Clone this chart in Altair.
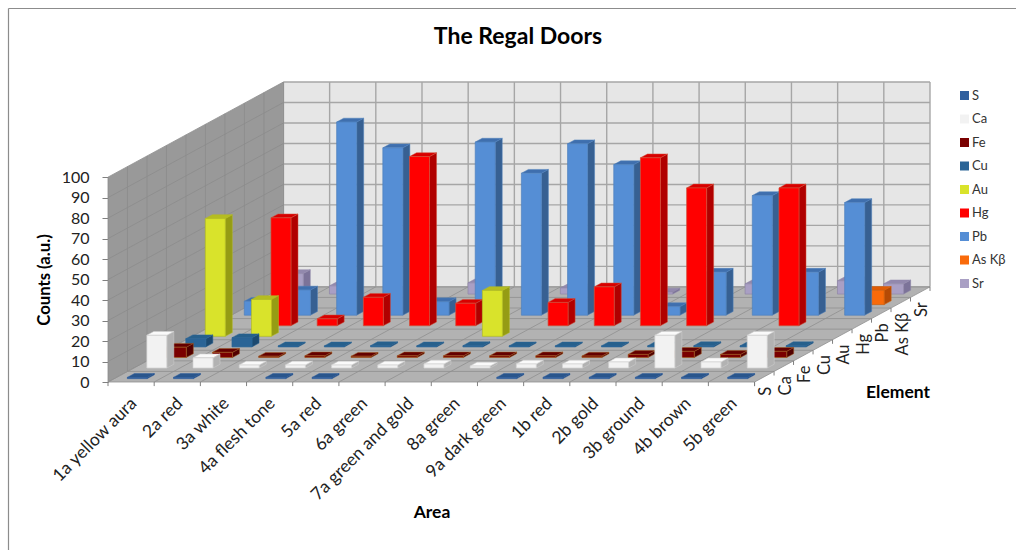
import altair as alt
import pandas as pd

TITLE = "The Regal Doors"
AREAS = ["1a yellow aura", "2a red", "3a white", "4a flesh tone", "5a red", "6a green",
         "7a green and gold", "8a green", "9a dark green", "1b red", "2b gold",
         "3b ground", "4b brown", "5b green"]
ELEMENTS = ["S", "Ca", "Fe", "Cu", "Au", "Hg", "Pb", "As Kβ", "Sr"]

# Counts per area, one list per element
S_VALUES = [0.6, 0.6, 0, 0.6, 0.6, 0, 0, 0, 0.6, 0.6, 0.6, 0.6, 0.6, 0.6]
CA_VALUES = [16, 5, 1.5, 1.5, 1.5, 1.5, 2, 1, 2, 2, 3, 16, 3, 16]
FE_VALUES = [5, 2.5, 0.6, 0.8, 0.6, 0.8, 0.8, 0.8, 0.8, 0.7, 1.5, 3, 1.5, 3]
CU_VALUES = [4, 4.5, 0.5, 0.5, 0.6, 0.5, 0.6, 0.5, 0.5, 0.5, 0.5, 0.6, 0.5, 0.6]
AU_VALUES = [57.5, 18, 0, 0, 0, 0, 22.4, 0, 0, 0, 0, 0, 0, 0]
HG_VALUES = [0, 52.7, 3.4, 13.9, 82.6, 11, 0, 11.4, 19, 82, 67.3, 0, 67.3, 0]
PB_VALUES = [6.8, 12.3, 94.3, 81.7, 6.6, 84.5, 69.3, 83.7, 73.5, 4.2, 21, 58.4, 21, 55]
AS_VALUES = [0, 0, 0, 0, 0, 0, 0, 0, 0, 0, 0, 0, 0, 7]
SR_VALUES = [10, 4, 0, 0, 5.5, 0, 3, 0, 1, 0, 5, 0, 6.5, 5]
SERIES = [S_VALUES, CA_VALUES, FE_VALUES, CU_VALUES, AU_VALUES,
          HG_VALUES, PB_VALUES, AS_VALUES, SR_VALUES]

FRONT = ["#2f5f9e", "#f2f2f2", "#7a0000", "#2a6496", "#d9e32b", "#ff0000", "#558ed5", "#f96a0a", "#a99fc4"]
SIDE = ["#1f4475", "#b2b2b2", "#520000", "#1d4a70", "#959c14", "#b00000", "#376092", "#b54a05", "#7c7399"]
TOP = ["#2a568c", "#fafafa", "#640000", "#27608c", "#b5bd20", "#d80000", "#3f6fae", "#e05c06", "#9288ad"]
EDGE = ["#2f5f9e", "#d0d0d0", "#a05a20", "#2a6496", "#b5bd20", "#d0503a", "#4f81bd", "#d0600a", "#8f86a8"]

# Oblique projection: one series step moves this far along the plot's axes
DEPTH_X = 0.4221
DEPTH_Y = 5.16
BAR_W = 0.433
BAR_D = 0.36
BAR_START = 0.32
X_MAX = len(AREAS) + len(ELEMENTS) * DEPTH_X
Y_MAX = 100 + len(ELEMENTS) * DEPTH_Y
TICK_VALUES = list(range(0, 110, 10))
font = "Lato"

x_scale = alt.Scale(domain=[0, X_MAX], nice=False, zero=False)
y_scale = alt.Scale(domain=[0, Y_MAX], nice=False, zero=False)
y_axis = alt.Axis(
    values=TICK_VALUES, title="Counts (a.u.)", titleFont=font, titleFontSize=16.7,
    titleFontWeight="bold", titleColor="#000000", titleY=197.5, titleX=-55, titleAngle=270,
    labelFont=font, labelFontSize=16, labelColor="#222222", labelPadding=13,
    domain=False, ticks=True, tickSize=6, tickColor="#808080", grid=False,
)
x_enc = alt.X("x:Q", scale=x_scale, axis=None)
y_enc = alt.Y("y:Q", scale=y_scale, axis=y_axis)


def segments(rows, color, width=1.0):
    """Straight lines, possibly slanted, given as x, y, x2, y2 rows."""
    return alt.Chart(pd.DataFrame(rows, columns=["x", "y", "x2", "y2"])).mark_rule(
        color=color, strokeWidth=width
    ).encode(x=x_enc, y=y_enc, x2="x2:Q", y2="y2:Q")


def panel_vertical(x0, x1, b0, t0, b1, t1, color):
    """Wall piece with vertical left and right edges."""
    df = pd.DataFrame({"x": [x0, x1], "y": [b0, b1], "y2": [t0, t1]})
    return alt.Chart(df).mark_area(color=color, opacity=1).encode(x=x_enc, y=y_enc, y2="y2:Q")


def panel_horizontal(y0, y1, a0, b0, a1, b1, color):
    """Floor piece with horizontal front and back edges."""
    df = pd.DataFrame({"y": [y0, y1], "x": [a0, a1], "x2": [b0, b1]})
    return alt.Chart(df).mark_area(color=color, opacity=1, orient="horizontal").encode(
        x=x_enc, y=y_enc, x2="x2:Q"
    )


n_a, n_e = len(AREAS), len(ELEMENTS)
dx_total, dy_total = n_e * DEPTH_X, n_e * DEPTH_Y

layers = [
    panel_vertical(dx_total, n_a + dx_total, dy_total, Y_MAX, dy_total, Y_MAX, "#e6e6e6"),
    panel_vertical(0, dx_total, 0, 100, dy_total, Y_MAX, "#999999"),
    panel_horizontal(0, dy_total, 0, n_a, dx_total, n_a + dx_total, "#b2b2b2"),
]

# Gridlines on the back wall, side wall and floor
levels = TICK_VALUES
layers.append(segments([[dx_total, dy_total + v, n_a + dx_total, dy_total + v] for v in levels], "#a6a6a6", 1.4))
layers.append(segments([[dx_total + k, dy_total, dx_total + k, Y_MAX] for k in range(n_a + 1)], "#a6a6a6", 1.4))
layers.append(segments([[0, v, dx_total, dy_total + v] for v in levels], "#8c8c8c", 0.8))
layers.append(segments([[e * DEPTH_X, e * DEPTH_Y, e * DEPTH_X, 100 + e * DEPTH_Y] for e in range(n_e + 1)], "#8c8c8c", 0.8))
layers.append(segments([[e * DEPTH_X, e * DEPTH_Y, n_a + e * DEPTH_X, e * DEPTH_Y] for e in range(n_e + 1)], "#8f8f8f", 0.8))
layers.append(segments([[k, 0, k + dx_total, dy_total] for k in range(n_a + 1)], "#8f8f8f", 0.8))

# Axis ticks on the floor's front and right edges
layers.append(segments([[k, 0, k, -2] for k in range(n_a + 1)], "#808080", 1))
layers.append(segments([[n_a + e * DEPTH_X, e * DEPTH_Y, n_a + e * DEPTH_X, e * DEPTH_Y - 2] for e in range(n_e + 1)], "#808080", 1))

# Columns, painted from the back row forward
for e in reversed(range(n_e)):
    front_rows, side_rows, top_rows = [], [], []
    for k, value in enumerate(SERIES[e]):
        if value <= 0:
            continue
        x0 = k + 0.5 - BAR_W / 2 + (e + BAR_START) * DEPTH_X
        x1 = x0 + BAR_W
        b = (e + BAR_START) * DEPTH_Y
        t = b + value
        shift_x, shift_y = BAR_D * DEPTH_X, BAR_D * DEPTH_Y
        front_rows.append({"x": x0, "x2": x1, "y": b, "y2": t, "element": ELEMENTS[e]})
        side_rows += [{"bar": k, "x": x1, "y": b, "y2": t},
                      {"bar": k, "x": x1 + shift_x, "y": b + shift_y, "y2": t + shift_y}]
        top_rows += [{"bar": k, "y": t, "x": x0, "x2": x1},
                     {"bar": k, "y": t + shift_y, "x": x0 + shift_x, "x2": x1 + shift_x}]
    layers.append(
        alt.Chart(pd.DataFrame(side_rows)).mark_area(
            color=SIDE[e], opacity=1, stroke=EDGE[e], strokeWidth=0.5
        ).encode(x=x_enc, y=y_enc, y2="y2:Q", detail="bar:N")
    )
    layers.append(
        alt.Chart(pd.DataFrame(top_rows)).mark_area(
            color=TOP[e], opacity=1, orient="horizontal", stroke=EDGE[e], strokeWidth=0.5
        ).encode(x=x_enc, y=y_enc, x2="x2:Q", detail="bar:N")
    )
    layers.append(
        alt.Chart(pd.DataFrame(front_rows)).mark_rect(stroke=EDGE[e], strokeWidth=0.7).encode(
            x=x_enc, y=y_enc, x2="x2:Q", y2="y2:Q",
            color=alt.Color(
                "element:N", sort=None,
                scale=alt.Scale(domain=ELEMENTS, range=FRONT),
                legend=alt.Legend(
                    title=None, orient="none", legendX=850, legendY=7, symbolType="square",
                    symbolSize=81, symbolStrokeWidth=0, labelFont=font, labelFontSize=13,
                    labelColor="#333333", rowPadding=9.5, labelOffset=1,
                ),
            ),
        )
    )

# Area names under the floor's front edge
area_df = pd.DataFrame({"x": [k + 0.5 for k in range(n_a)], "y": [0.0] * n_a, "label": AREAS})
layers.append(
    alt.Chart(area_df).mark_text(
        angle=315, align="right", baseline="middle", font=font, fontSize=17.5,
        color="#222222", dx=-11.3, dy=15.5,
    ).encode(x=x_enc, y=y_enc, text="label:N")
)

# Element names along the floor's right edge
elem_df = pd.DataFrame({
    "x": [n_a + (e + 0.5) * DEPTH_X for e in range(n_e)],
    "y": [(e + 0.5) * DEPTH_Y for e in range(n_e)],
    "label": ELEMENTS,
})
layers.append(
    alt.Chart(elem_df).mark_text(
        angle=270, align="right", baseline="middle", font=font, fontSize=16.5,
        color="#222222", dx=-10, dy=2,
    ).encode(x=x_enc, y=y_enc, text="label:N")
)

# Free-standing titles, placed relative to the plot area
def caption(text, px, py, size):
    return alt.Chart(pd.DataFrame({"label": [text]})).mark_text(
        font=font, fontSize=size, fontWeight="bold", color="#000000", align="center", baseline="middle",
    ).encode(x=alt.value(px), y=alt.value(py), text="label:N")


layers.append(caption("Area", 324, 431, 17.5))
layers.append(caption("Element", 790, 311, 17.5))
layers.append(caption(TITLE, 410, -45, 23))

# Chart frame: top and left edges
layers.append(alt.Chart(pd.DataFrame({"a": [0]})).mark_rule(color="#8c8c8c", strokeWidth=1.2).encode(
    x=alt.value(-99.5), x2=alt.value(908), y=alt.value(-73.5)))
layers.append(alt.Chart(pd.DataFrame({"a": [0]})).mark_rule(color="#8c8c8c", strokeWidth=1.2).encode(
    x=alt.value(-99.5), y=alt.value(-73.5), y2=alt.value(468)))

chart = alt.layer(*layers).resolve_scale(color="shared").properties(
    width=822,
    height=300,
    padding={"left": 108, "top": 82, "right": 86, "bottom": 168},
    autosize=alt.AutoSizeParams(type="none"),
    background="#ffffff",
).configure_view(stroke=None)

chart.save("out.html", embed_options={"renderer": "svg", "actions": False})
